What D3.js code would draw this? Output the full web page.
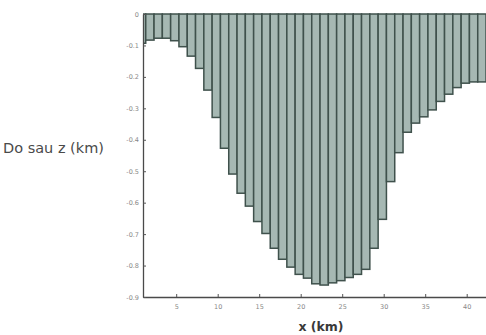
<!DOCTYPE html>
<html>
<head>
<meta charset="utf-8">
<script src="https://cdn.jsdelivr.net/npm/d3@7"></script>
<style>
  body { margin: 0; background: #fff; }
  svg { display: block; }
</style>
</head>
<body>
<div id="chart"></div>
<script>
'use strict';

// bar centres along the profile (km) and the depth of each one (km, negative down)
const xKm = [0.83, 1.83, 2.83, 3.83, 4.83, 5.83, 6.83, 7.83, 8.83, 9.83,
    10.83, 11.83, 12.83, 13.83, 14.83, 15.83, 16.83, 17.83, 18.83, 19.83,
    20.83, 21.83, 22.83, 23.83, 24.83, 25.83, 26.83, 27.83, 28.83, 29.83,
    30.83, 31.83, 32.83, 33.83, 34.83, 35.83, 36.83, 37.83, 38.83, 39.83,
    40.83, 41.83];
const depthKm = [-0.093, -0.083, -0.077, -0.077, -0.085, -0.104, -0.134, -0.173, -0.242, -0.329,
    -0.427, -0.509, -0.570, -0.611, -0.660, -0.698, -0.745, -0.780, -0.805, -0.828,
    -0.840, -0.858, -0.862, -0.855, -0.848, -0.838, -0.828, -0.812, -0.745, -0.653,
    -0.533, -0.441, -0.376, -0.347, -0.327, -0.305, -0.278, -0.255, -0.234, -0.220,
    -0.216, -0.216];
const xTicks = [5, 10, 15, 20, 25, 30, 35, 40];
const yTicks = [0, -0.1, -0.2, -0.3, -0.4, -0.5, -0.6, -0.7, -0.8, -0.9];
const yTickLabels = ['0', '-0.1', '-0.2', '-0.3', '-0.4', '-0.5', '-0.6', '-0.7', '-0.8', '-0.9'];

const width = 486, height = 335;
const margin = { top: 14, left: 143, bottom: 38 };
const plotBottom = height - margin.bottom; // 297

const svg = d3.select('#chart').append('svg')
    .attr('width', width)
    .attr('height', height);

const xScale = d3.scaleLinear().domain([1, 43]).range([margin.left, margin.left + 42 * 8.3]);
const yScale = d3.scaleLinear().domain([-0.9, 0]).range([plotBottom, margin.top]);

svg.append('clipPath').attr('id', 'plot-clip')
    .append('rect')
    .attr('x', margin.left).attr('y', margin.top - 2)
    .attr('width', width - margin.left).attr('height', plotBottom - margin.top + 2);

// bars hang down from 0
const barW = xScale(1) - xScale(0);
svg.append('g')
    .attr('clip-path', 'url(#plot-clip)')
    .selectAll('rect')
    .data(xKm)
    .join('rect')
    .attr('x', (d) => xScale(d) - barW / 2)
    .attr('y', yScale(0))
    .attr('width', barW)
    .attr('height', (d, i) => yScale(depthKm[i]) - yScale(0))
    .attr('fill', '#a6b8b3')
    .attr('stroke', '#3f514c')
    .attr('stroke-width', 1.5);

// axes, MATLAB style ticks pointing inwards
const xAxis = svg.append('g')
    .attr('transform', `translate(0, ${plotBottom})`)
    .call(d3.axisBottom(xScale).tickValues(xTicks).tickSize(-3).tickSizeOuter(0).tickPadding(7));
xAxis.select('.domain').attr('stroke', '#4a4a4a').attr('stroke-width', 1.3);

const yAxis = svg.append('g')
    .attr('transform', `translate(${margin.left}, 0)`)
    .call(d3.axisLeft(yScale).tickValues(yTicks).tickSize(-3).tickSizeOuter(0).tickPadding(4)
        .tickFormat((d, i) => yTickLabels[i]));
yAxis.select('.domain').attr('stroke', '#4a4a4a').attr('stroke-width', 1.3);

svg.selectAll('.tick line').attr('stroke', '#555');
svg.selectAll('.tick text')
    .attr('style', 'font-family:"DejaVu Sans",sans-serif;font-size:6.5px;fill:#888;');

svg.append('text')
    .attr('x', 321)
    .attr('y', 331)
    .attr('text-anchor', 'middle')
    .attr('style', 'font-family:"DejaVu Sans",sans-serif;font-size:12.5px;font-weight:bold;fill:#3a3a3a;')
    .text('x (km)');

svg.append('text')
    .attr('x', 3)
    .attr('y', 153)
    .attr('style', 'font-family:"DejaVu Sans",sans-serif;font-size:14.5px;fill:#4a4a4a;')
    .text('Do sau z (km)');
</script>
</body>
</html>
